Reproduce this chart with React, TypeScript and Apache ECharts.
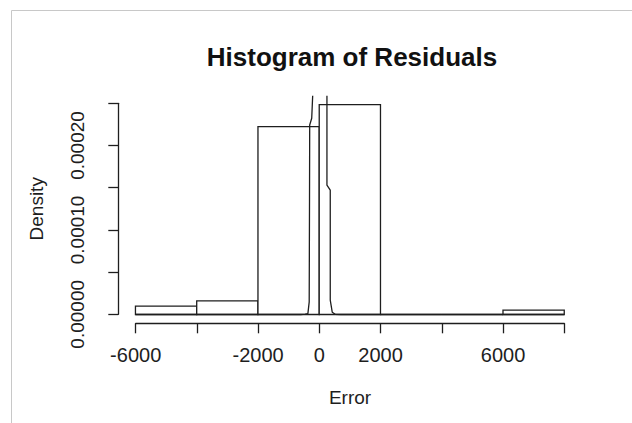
import React, { useEffect, useRef } from "react";
import * as echarts from "echarts";

// Histogram bins (break points) and their densities
const breaks = [-6000, -4000, -2000, 0, 2000, 4000, 6000, 8000];
const densities = [0.0000098, 0.000016, 0.000222, 0.000248, 0, 0, 0.0000051];

// Kernel density curve (narrow peak near zero, clipped at plot top)
const curveX = [-6000, -600, -460, -370, -327, -317, -311, -245, -213, -190, 240, 245, 252, 252, 360, 360, 425, 523, 700, 8000];
const curveY = [0, 0, 0.0000005, 0.000001, 0.0000149, 0.000135, 0.000224, 0.000232, 0.000259, 0.00045, 0.00045, 0.00035, 0.000258, 0.000153, 0.000147, 0.000017, 0.0000027, 0.0000002, 0, 0];

// Axis ticks and labels
const xTicks = [-6000, -4000, -2000, 0, 2000, 4000, 6000, 8000];
const xTickLabels = ["-6000", "", "-2000", "0", "2000", "", "6000", ""];
const yTicks = [0, 0.00005, 0.0001, 0.00015, 0.0002, 0.00025];
const yTickLabels = ["0.00000", "", "0.00010", "", "0.00020", ""];

const titleText = "Histogram of Residuals";
const xName = "Error";
const yName = "Density";

const FONT = "'Liberation Sans', Arial, Helvetica, sans-serif";
const INK = "#1e1e1e";

export default function App() {
  const ref = useRef<HTMLDivElement>(null);

  useEffect(() => {
    if (!ref.current) return;
    const chart = echarts.init(ref.current, null, { renderer: "svg" });

    const xMin = xTicks[0];
    const xMax = xTicks[xTicks.length - 1];
    const yMin = yTicks[0];
    const yMax = yTicks[yTicks.length - 1];
    const dMax = Math.max(...densities);
    const xPad = (xMax - xMin) * 0.04;
    const yPad = dMax * 0.04;

    const bins = breaks.slice(0, -1).map((b, i) => [b, breaks[i + 1], densities[i]]);
    const curve = curveX.map((x, i) => [x, curveY[i]]);

    const option: any = {
      animation: false,
      backgroundColor: "#ffffff",
      textStyle: { fontFamily: FONT, color: INK },
      title: {
        text: titleText,
        left: 347,
        textAlign: "center",
        top: 39,
        textStyle: { fontFamily: FONT, fontSize: 26, fontWeight: "bold", color: "#111" },
      },
      graphic: [
        { type: "line", shape: { x1: 11.5, y1: 10.5, x2: 11.5, y2: 423 }, style: { stroke: "#c8c8c8", lineWidth: 1 } },
        { type: "line", shape: { x1: 11.5, y1: 10.5, x2: 632, y2: 10.5 }, style: { stroke: "#c8c8c8", lineWidth: 1 } },
      ],
      grid: [
        // plotting region (R's 4% extended range)
        { left: 118.3, top: 96.3, width: 463.1, height: 226.6, containLabel: false },
        // axes region (first to last tick)
        { left: 135.7, top: 103.3, width: 428.6, height: 211, containLabel: false },
      ],
      xAxis: [
        { gridIndex: 0, type: "value", min: xMin - xPad, max: xMax + xPad, show: false },
        {
          gridIndex: 1,
          type: "value",
          min: xMin,
          max: xMax,
          interval: 2000,
          offset: 9,
          position: "bottom",
          axisLine: { show: true, onZero: false, lineStyle: { color: INK, width: 1.3 } },
          axisTick: { show: true, length: 10, lineStyle: { color: INK, width: 1.3 } },
          splitLine: { show: false },
          axisLabel: {
            margin: 22,
            fontSize: 20,
            fontFamily: FONT,
            color: INK,
            formatter: (_v: number, idx: number) => xTickLabels[idx] ?? "",
          },
          name: xName,
          nameLocation: "middle",
          nameGap: 65,
          nameTextStyle: { fontSize: 19, fontFamily: FONT, color: INK },
        },
      ],
      yAxis: [
        { gridIndex: 0, type: "value", min: yMin - yPad, max: dMax * 1.04, show: false },
        {
          gridIndex: 1,
          type: "value",
          min: yMin,
          max: yMax,
          interval: 0.00005,
          offset: 17.4,
          position: "left",
          axisLine: { show: true, onZero: false, lineStyle: { color: INK, width: 1.3 } },
          axisTick: { show: true, length: 10, lineStyle: { color: INK, width: 1.3 } },
          splitLine: { show: false },
          axisLabel: {
            rotate: 90,
            margin: 31,
            fontSize: 19,
            fontFamily: FONT,
            color: INK,
            formatter: (_v: number, idx: number) => yTickLabels[idx] ?? "",
          },
          name: yName,
          nameLocation: "middle",
          nameRotate: 90,
          nameGap: 72,
          nameTextStyle: { fontSize: 19, fontFamily: FONT, color: INK },
        },
      ],
      series: [
        {
          type: "custom",
          xAxisIndex: 0,
          yAxisIndex: 0,
          data: bins,
          encode: { x: [0, 1], y: 2 },
          renderItem: (_params: any, api: any) => {
            const x0 = api.value(0);
            const x1 = api.value(1);
            const h = api.value(2);
            const p0 = api.coord([x0, 0]);
            const p1 = api.coord([x1, h]);
            return {
              type: "rect",
              shape: { x: p0[0], y: p1[1], width: p1[0] - p0[0], height: p0[1] - p1[1] },
              style: { fill: "#ffffff", stroke: INK, lineWidth: 1.3 },
            };
          },
        },
        {
          type: "line",
          xAxisIndex: 0,
          yAxisIndex: 0,
          data: curve,
          showSymbol: false,
          symbol: "none",
          clip: true,
          lineStyle: { color: INK, width: 1.3 },
        },
      ],
    };

    chart.setOption(option);
    return () => chart.dispose();
  }, []);

  return (
    <div
      ref={ref}
      style={{ position: "absolute", left: 0, top: 0, width: 632, height: 423 }}
    />
  );
}
